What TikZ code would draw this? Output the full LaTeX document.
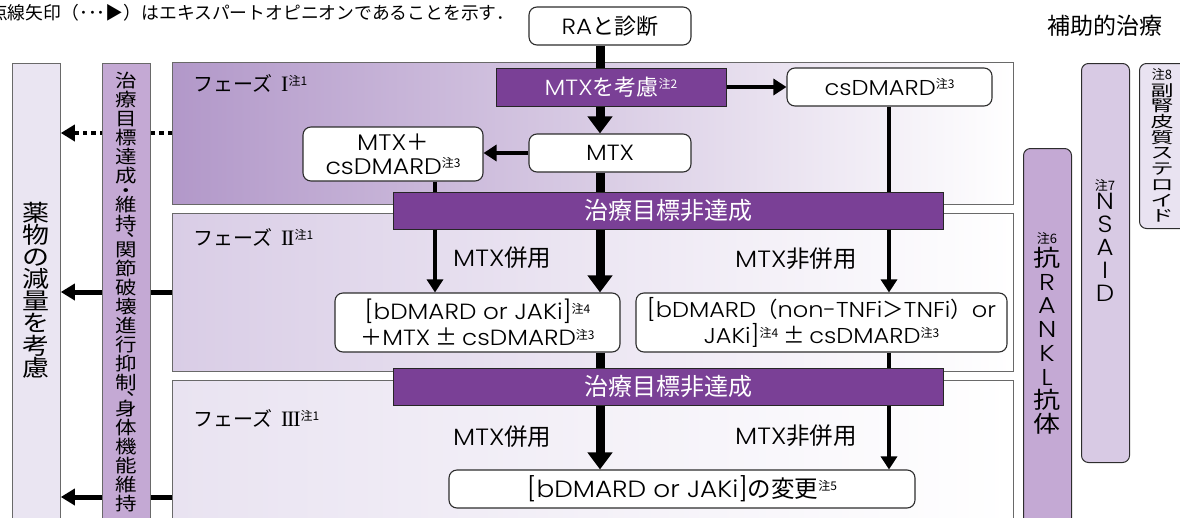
\documentclass[tikz,border=0pt]{standalone}
\usepackage{fontspec}
\usepackage{graphicx}
\setmainfont{Noto Sans CJK JP}
\newfontfamily\lat[FakeStretch=1.12, UprightFont={* Light}]{Poppins}
\newfontfamily\latv[UprightFont={* Light}]{Poppins}
\newfontfamily\serifr{Liberation Serif}
\usetikzlibrary{arrows.meta}
\definecolor{barpurple}{RGB}{122,64,150}
\definecolor{phA}{RGB}{178,152,201}
\definecolor{phB}{RGB}{217,205,230}
\definecolor{phC}{RGB}{233,227,241}
\definecolor{colin}{RGB}{196,169,212}
\definecolor{colout}{RGB}{234,229,242}
\definecolor{colnsaid}{RGB}{216,202,228}
\definecolor{colster}{RGB}{233,227,241}
\definecolor{edgegray}{RGB}{105,105,105}
\definecolor{edgedark}{RGB}{45,45,45}
\newcommand\EN[1]{{\lat #1}}
\newcommand\chu[1]{\raisebox{.3em}{\fontsize{12}{12}\selectfont 注#1}}
\newcommand\vst[4]{\scalebox{1}[#1]{\vbox{\fontsize{#2}{#3}\selectfont\lineskiplimit=-\maxdimen\lineskip=0pt\halign{\hfil##\hfil\cr#4\crcr}}}}
\newcommand\vcomma{\makebox[1em][l]{\hspace{0.5em}\rlap{、}}}
\newcommand\romI{{\fontsize{22}{22}\selectfont\serifr I}}
\newcommand\romII{{\fontsize{22}{22}\selectfont\serifr I\kern-1.3pt I}}
\newcommand\romIII{{\fontsize{22}{22}\selectfont\serifr I\kern-1.3pt I\kern-1.3pt I}}
\tikzset{
  fs/.style={font=\fontsize{#1}{#1}\selectfont},
  wbox/.style={draw=edgedark, line width=1.1pt, rounded corners=8pt, fill=white, inner sep=0pt, align=center},
  pbar/.style={draw=black!85, line width=1pt, fill=barpurple, text=white, inner sep=0pt},
  phase/.style={draw=edgegray, line width=0.8pt, inner sep=0pt, anchor=north west},
  colbox/.style={draw=edgegray, line width=0.8pt, inner sep=0pt, anchor=north west, minimum width=48pt},
  rbox/.style={draw=edgedark, line width=1pt, rounded corners=7pt, inner sep=0pt, anchor=north west, minimum width=48pt},
  bigarr/.style={line width=9pt, -{Triangle[width=24pt,length=17pt]}},
  bigln/.style={line width=9pt},
  smarr/.style={line width=4.5pt, -{Triangle[width=16pt,length=13pt]}},
  smln/.style={line width=4.5pt},
  sidearr/.style={line width=5pt, -{Triangle[width=16pt,length=14pt]}},
  dotarr/.style={line width=4.5pt, dash pattern=on 4.5pt off 4pt, -{Triangle[width=16pt,length=14pt]}},
  lbl/.style={inner sep=0pt, anchor=west},
}
\begin{document}
\begin{tikzpicture}[x=1pt,y=-1pt]
\useasboundingbox (0,0) rectangle (1180,517);
% caption
\node[fs=17.8, inner sep=0pt, anchor=east] (cap) at (514,13) {点線矢印（･･･▶）はエキスパートオピニオンであることを示す．};
\node[fs=23, inner sep=0pt] (hojo) at (1105,26) {補助的治療};
% phases
\node[phase, left color=phA, right color=white, minimum width=841pt, minimum height=142pt] (p1) at (172,62) {};
\node[phase, left color=phB, right color=white, minimum width=841pt, minimum height=158pt] (p2) at (172,213) {};
\node[phase, left color=phC, right color=white, minimum width=841pt, minimum height=160pt] (p3) at (172,380) {};
\node[lbl, fs=20] (p1l) at (193,83) {フェーズ\hspace{0.45em}\romI\chu1};
\node[lbl, fs=20] (p2l) at (193,237) {フェーズ\hspace{0.45em}\romII\chu1};
\node[lbl, fs=20] (p3l) at (193,418) {フェーズ\hspace{0.45em}\romIII\chu1};
% left columns
\node[colbox, fill=colout, minimum height=470pt] (outer) at (12,63) {};
\coordinate (ya) at (0,133);
\coordinate (yb) at (0,292);
\coordinate (yc) at (0,497);
\draw[dotarr] (p1.west |- ya) -- (outer.east |- ya);
\draw[sidearr] (p2.west |- yb) -- (outer.east |- yb);
\draw[sidearr] (p3.west |- yc) -- (outer.east |- yc);
\node[colbox, fill=colin, minimum height=470pt] (inner) at (102,63) {};
\node[inner sep=0pt] (outert) at (36,290) {\vst{0.85}{27}{26}{薬\cr 物\cr の\cr 減\cr 量\cr を\cr 考\cr 慮}};
\node[inner sep=0pt, anchor=north] (innert) at (126,72) {\vst{0.85}{21.5}{22.4}{治\cr 療\cr 目\cr 標\cr 達\cr 成\cr\noalign{\vskip-5.6pt}・\cr\noalign{\vskip-5.6pt}維\cr 持\cr\noalign{\vskip-15.2pt}\vcomma\cr\noalign{\vskip0.6pt}関\cr 節\cr 破\cr 壊\cr 進\cr 行\cr 抑\cr 制\cr\noalign{\vskip-15.2pt}\vcomma\cr\noalign{\vskip0.6pt}身\cr 体\cr 機\cr 能\cr 維\cr 持}};
% right columns
\node[rbox, fill=colin, minimum height=382pt] (rankl) at (1023,148) {};
\node[rbox, fill=colnsaid, minimum height=399pt] (nsaid) at (1081,63) {};
\node[rbox, fill=colster, minimum height=165pt, minimum width=52pt] (ster) at (1139,63) {};
\node[fs=13, inner sep=0pt] (n6) at (1047,238) {注6};
\node[inner sep=0pt, anchor=north] (ranklt) at (1047,247) {\vst{0.85}{27}{27.9}{抗\cr\latv R\cr\latv A\cr\latv N\cr\latv K\cr\latv L\cr 抗\cr 体}};
\node[fs=13, inner sep=0pt] (n7) at (1105,185) {注7};
\node[inner sep=0pt, anchor=north] (nsaidt) at (1105,193) {\vst{0.9}{26}{25.6}{\latv N\cr\latv S\cr\latv A\cr\latv I\cr\latv D}};
\node[fs=13, inner sep=0pt] (n8) at (1162,74) {注8};
\node[inner sep=0pt, anchor=north] (stert) at (1162,83) {\vst{0.68}{23}{23.1}{副\cr 腎\cr 皮\cr 質\cr ス\cr テ\cr ロ\cr イ\cr ド}};
% flow nodes
\coordinate (cx) at (600,0);
\coordinate (lx) at (435,0);
\coordinate (rx) at (889,0);
\node[wbox, minimum width=162pt, minimum height=38pt, fs=22] (ra) at (610,26) {\EN{RA}と診断};
\node[pbar, minimum width=230pt, minimum height=38pt, fs=22] (mtxc) at (611,87) {\EN{MTX}を考慮\chu2};
\node[wbox, minimum width=205pt, minimum height=38pt, fs=21.5] (csd) at (889.5,87) {\EN{csDMARD}\chu3};
\node[wbox, minimum width=162pt, minimum height=38pt, fs=22] (mtx) at (610,153) {\EN{MTX}};
\node[wbox, minimum width=180pt, minimum height=54pt, font=\fontsize{22.5}{24}\selectfont] (mtxcs) at (393,154) {\EN{MTX}＋\\\EN{csDMARD}\chu3};
\node[pbar, minimum width=550pt, minimum height=37pt, fs=24] (bar1) at (668,210.5) {治療目標非達成};
\node[wbox, minimum width=285pt, minimum height=59pt, font=\fontsize{22}{26}\selectfont] (b1) at (477.5,322.5) {\EN{[bDMARD or JAKi]}\chu4\\＋\EN{MTX} ± \EN{csDMARD}\chu3};
\node[wbox, minimum width=371pt, minimum height=59pt, font=\fontsize{21.5}{26}\selectfont] (b2) at (821.5,322.5) {\EN{[bDMARD}（\EN{non-TNFi}＞\EN{TNFi}）\EN{or}\\\EN{JAKi]}\chu4 ± \EN{csDMARD}\chu3};
\node[pbar, minimum width=550pt, minimum height=37pt, fs=24] (bar2) at (668,386.5) {治療目標非達成};
\node[wbox, minimum width=466pt, minimum height=38pt, fs=23.5] (b3) at (682,489) {\EN{[bDMARD or JAKi]}の変更\chu5};
\node[lbl, fs=23.5] (m1) at (453,258) {\EN{MTX}併用};
\node[lbl, fs=23.5] (m2) at (735,259) {\EN{MTX}非併用};
\node[lbl, fs=23.5] (m3) at (453,437) {\EN{MTX}併用};
\node[lbl, fs=23.5] (m4) at (735,436) {\EN{MTX}非併用};
% connectors
\draw[bigln] (ra.south -| cx) -- (mtxc.north -| cx);
\draw[bigarr] (mtxc.south -| cx) -- (mtx.north -| cx);
\draw[smarr] (mtxc.east) -- (csd.west);
\draw[smarr] (mtx.west) -- (mtx.west -| mtxcs.east);
\draw[bigln] (mtx.south -| cx) -- (bar1.north -| cx);
\draw[smln] (mtxcs.south -| lx) -- (bar1.north -| lx);
\draw[smln] (csd.south -| rx) -- (bar1.north -| rx);
\draw[smarr] (bar1.south -| lx) -- (b1.north -| lx);
\draw[bigarr] (bar1.south -| cx) -- (b1.north -| cx);
\draw[smarr] (bar1.south -| rx) -- (b2.north -| rx);
\draw[bigln] (b1.south -| cx) -- (bar2.north -| cx);
\draw[smln] (b2.south -| rx) -- (bar2.north -| rx);
\draw[bigarr] (bar2.south -| cx) -- (b3.north -| cx);
\draw[smarr] (bar2.south -| rx) -- (b3.north -| rx);
\end{tikzpicture}
\end{document}
